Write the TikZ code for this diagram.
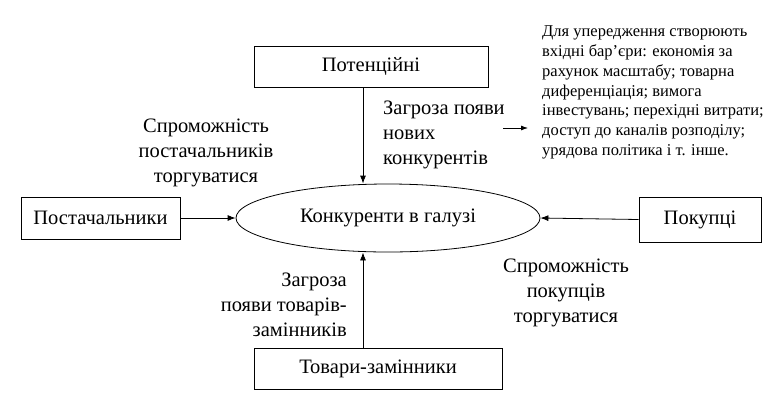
\documentclass[tikz,border=0pt]{standalone}
\usepackage{fontspec}
\setmainfont{Liberation Serif}
\usetikzlibrary{shapes,arrows.meta,positioning,calc}

\begin{document}
\begin{tikzpicture}[x=1pt,y=-1pt,
    box/.style={draw,line width=0.8pt,minimum height=41pt,inner sep=0pt,font=\fontsize{20.5}{24}\selectfont},
    lbl/.style={inner sep=0pt,font=\fontsize{20.5}{25}\selectfont},
    arr/.style={line width=0.8pt,-{Latex[length=8pt,width=6pt]}}]
    \useasboundingbox (0,0) rectangle (778,405);

    % Industry and the forces round it
    \node[draw,ellipse,line width=0.8pt,minimum width=304pt,minimum height=68pt,inner sep=0pt,
          font=\fontsize{20.5}{24}\selectfont] (rivals) at (388,218) {Конкуренти в галузі};
    \node[box,minimum width=234pt] (entrants) at (371,66.5) {Потенційні};
    \node[box,minimum width=159pt,minimum height=42pt] (suppliers) at (100.5,218) {Постачальники};
    \node[box,minimum width=122pt,minimum height=45pt] (buyers) at (700,219.5) {Покупці};
    \node[box,minimum width=248pt] (substitutes) at (378,368.5) {Товари-замінники};

    % Connectors
    \coordinate (axis) at (363,0);
    \draw[arr] (entrants.south -| axis) -- (rivals.north -| axis);
    \draw[arr] (substitutes.north -| axis) -- (rivals.south -| axis);
    \draw[arr] (suppliers.east) -- (rivals.west);
    \draw[arr] (buyers.west) -- (rivals.east);

    % Labels of the forces
    \node[lbl,align=center] (supplierpower) at (206,152.5) {Спроможність\\постачальників\\торгуватися};
    \node[lbl,align=center] (buyerpower) at (566,292.5) {Спроможність\\покупців\\торгуватися};
    \node[lbl,align=left,anchor=west] (entrythreat) at (383,135) {Загроза появи\\нових\\конкурентів};
    \node[lbl,align=right,anchor=east] (substthreat) at (347,305) {Загроза\\появи товарів-\\замінників};

    % Entry barriers
    \coordinate (barrierfrom) at (503,128);
    \coordinate (barrierto) at (528,128);
    \draw[line width=0.8pt,-{Latex[length=7pt,width=5pt]}] (barrierfrom) -- (barrierto);
    \node[inner sep=0pt,align=left,anchor=west,font=\fontsize{16.5}{19.8}\selectfont] (barriers) at (542,92.5)
        {Для упередження створюють\\вхідні бар’єри: економія за\\рахунок масштабу; товарна\\диференціація; вимога\\інвестувань; перехідні витрати;\\доступ до каналів розподілу;\\урядова політика і т. інше.};
\end{tikzpicture}
\end{document}
